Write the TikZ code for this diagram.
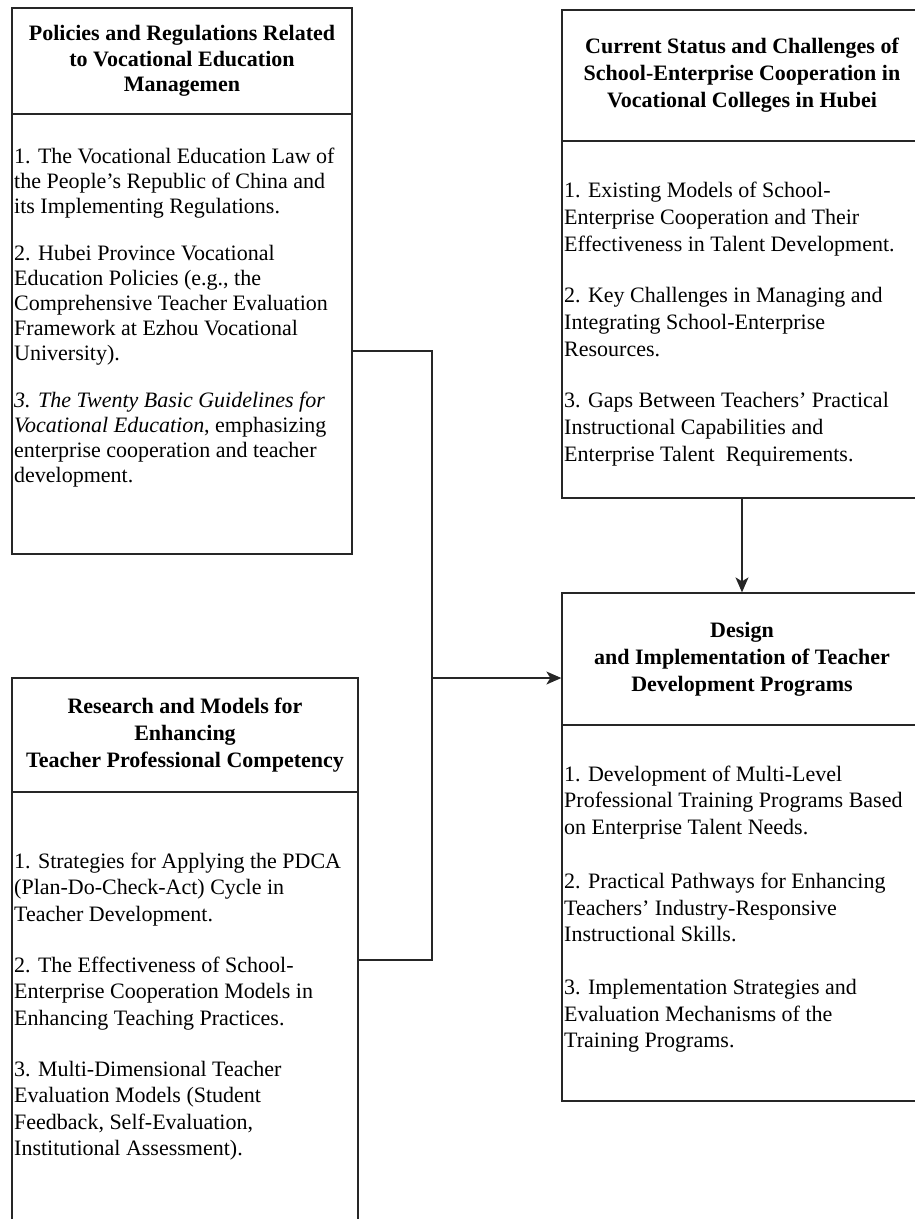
\documentclass[tikz,border=0pt]{standalone}
\usepackage{fontspec}
\setmainfont{Liberation Serif}
\usetikzlibrary{arrows.meta}
\newcommand{\txtrow}[1]{\hbox{#1}}
\newcommand{\pgap}[1]{\vskip #1pt}
\begin{document}
\begin{tikzpicture}[x=1pt,y=-1pt,
  boxline/.style={draw=black!85, line width=1.3pt},
  hdr/.style={boxline, rectangle, inner sep=0pt, align=center, font=\fontsize{22}{27}\selectfont\bfseries},
  bodybox/.style={boxline, rectangle, inner sep=0pt},
  bodytext/.style={anchor=base west, inner sep=0pt, font=\fontsize{22}{27}\selectfont},
  conn/.style={draw=black!85, line width=1.3pt},
  arr/.style={conn, -{Stealth[length=15pt,width=13pt,inset=4pt]}}
]
\useasboundingbox (0,0) rectangle (915,1219);
\clip (0,0) rectangle (915,1219);

% Box A
\node[hdr, font=\fontsize{22}{25.5}\selectfont\bfseries, minimum width=340pt, minimum height=106pt] (Ah) at (182,61)
  {Policies and Regulations Related\\to Vocational Education\\Managemen};
\node[bodybox, minimum width=340pt, minimum height=440pt] (Ab) at (182,334) {};
\node[bodytext] (At) at (14,163) {\vtop{\baselineskip=25pt
  \txtrow{1. The Vocational Education Law of}
  \txtrow{the People's Republic of China and}
  \txtrow{its Implementing Regulations.}
  \pgap{22}
  \txtrow{2. Hubei Province Vocational}
  \txtrow{Education Policies (e.g., the}
  \txtrow{Comprehensive Teacher Evaluation}
  \txtrow{Framework at Ezhou Vocational}
  \txtrow{University).}
  \pgap{22}
  \txtrow{\textit{3. The Twenty Basic Guidelines for}}
  \txtrow{\textit{Vocational Education}, emphasizing}
  \txtrow{enterprise cooperation and teacher}
  \txtrow{development.}}};

% Box B
\node[hdr, minimum width=360pt, minimum height=131pt] (Bh) at (742,75.5)
  {Current Status and Challenges of\\School-Enterprise Cooperation in\\Vocational Colleges in Hubei};
\node[bodybox, minimum width=360pt, minimum height=357pt] (Bb) at (742,319.5) {};
\node[bodytext] (Bt) at (564,197) {\vtop{%
  \txtrow{1. Existing Models of School-}
  \txtrow{Enterprise Cooperation and Their}
  \txtrow{Effectiveness in Talent Development.}
  \pgap{24}
  \txtrow{2. Key Challenges in Managing and}
  \txtrow{Integrating School-Enterprise}
  \txtrow{Resources.}
  \pgap{24}
  \txtrow{3. Gaps Between Teachers’ Practical}
  \txtrow{Instructional Capabilities and}
  \txtrow{Enterprise Talent\ \ Requirements.}}};

% Box C
\node[hdr, minimum width=346pt, minimum height=114pt] (Ch) at (185,735)
  {Research and Models for\\Enhancing\\Teacher Professional Competency};
\node[bodybox, minimum width=346pt, minimum height=460pt] (Cb) at (185,1022) {};
\node[bodytext] (Ct) at (14,868) {\vtop{\baselineskip=26.5pt
  \txtrow{1. Strategies for Applying the PDCA}
  \txtrow{(Plan-Do-Check-Act) Cycle in}
  \txtrow{Teacher Development.}
  \pgap{24.5}
  \txtrow{2. The Effectiveness of School-}
  \txtrow{Enterprise Cooperation Models in}
  \txtrow{Enhancing Teaching Practices.}
  \pgap{24.5}
  \txtrow{3. Multi-Dimensional Teacher}
  \txtrow{Evaluation Models (Student}
  \txtrow{Feedback, Self-Evaluation,}
  \txtrow{Institutional Assessment).}}};

% Box D
\node[hdr, minimum width=360pt, minimum height=132pt] (Dh) at (742,659)
  {Design\\and Implementation of Teacher\\Development Programs};
\node[bodybox, minimum width=360pt, minimum height=376pt] (Db) at (742,913) {};
\node[bodytext] (Dt) at (564,781) {\vtop{\baselineskip=26.5pt
  \txtrow{1. Development of Multi-Level}
  \txtrow{Professional Training Programs Based}
  \txtrow{on Enterprise Talent Needs.}
  \pgap{28}
  \txtrow{2. Practical Pathways for Enhancing}
  \txtrow{Teachers’ Industry-Responsive}
  \txtrow{Instructional Skills.}
  \pgap{26.5}
  \txtrow{3. Implementation Strategies and}
  \txtrow{Evaluation Mechanisms of the}
  \txtrow{Training Programs.}}};

% Connectors
\coordinate (j1) at (432,351);
\coordinate (j2) at (432,960);
\coordinate (j3) at (432,678);
\draw[conn] (Ab.east |- j1) -- (j1) -- (j2) -- (Cb.east |- j2);
\draw[arr] (j3) -- (Dh.west |- j3);
\draw[arr] (Bb.south) -- (Dh.north);
\end{tikzpicture}
\end{document}
